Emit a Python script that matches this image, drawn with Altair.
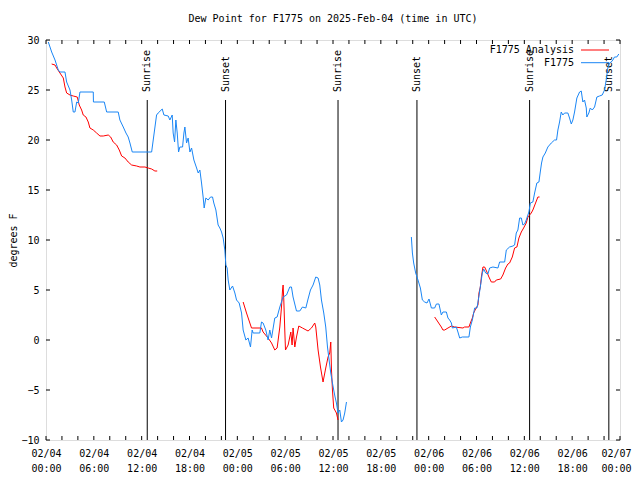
import json
import altair as alt
import pandas as pd

# ---- data: hours since 2025-02-04 00:00 UTC, dew point in degrees F ----
obs1_t = [0.29, 0.71, 1.13, 1.54, 1.75, 2.38, 2.59, 3.01, 3.22, 3.42, 3.63, 3.85, 4.05, 4.26, 5.93, 5.95,
          7.31, 7.61, 9.06, 9.27, 9.69, 10.03, 10.31, 10.53, 10.82, 13.25, 13.45, 13.87, 14.07, 14.58, 14.79,
          15.33, 15.54, 15.83, 15.95, 16.13, 16.29, 16.46, 16.63, 16.79, 17.13, 17.30, 17.42, 17.63, 17.83,
          18.05, 18.26, 18.55, 18.89, 19.09, 19.30, 19.51, 19.71, 19.84, 20.05, 20.34, 20.64, 20.89, 21.05,
          21.31, 21.59, 21.81, 22.02, 22.22, 22.43, 22.56, 22.72, 22.85, 23.06, 23.40, 23.69, 23.90, 24.23,
          24.53, 24.73, 25.07, 25.35, 25.65, 25.86, 25.98, 26.82, 27.03, 27.23, 27.57, 27.86, 28.07, 28.29,
          28.70, 28.99, 29.33, 29.74, 30.17, 30.58, 30.79, 30.99, 31.42, 31.83, 32.17, 32.59, 32.87, 33.17,
          33.50, 33.84, 34.13, 34.34, 34.55, 34.84, 35.09, 35.31, 35.51, 35.72, 35.93, 36.09, 36.26, 36.43,
          36.63, 36.85, 37.06, 37.26, 37.47, 37.69]
obs1_v = [29.8, 28.8, 28.0, 27.0, 26.8, 26.8, 25.8, 25.0, 24.0, 22.8, 22.8, 23.8, 23.7, 24.8, 24.8, 23.8,
          23.8, 22.8, 22.8, 22.0, 21.3, 20.7, 20.3, 19.7, 18.8, 18.8, 20.0, 22.5, 22.7, 23.1, 22.5,
          22.4, 22.0, 22.5, 20.7, 19.8, 22.0, 20.7, 18.8, 19.3, 19.3, 20.7, 21.3, 19.7, 20.2,
          18.8, 19.2, 18.0, 17.2, 16.7, 17.0, 15.7, 14.3, 13.2, 14.2, 14.0, 14.3, 14.3, 13.7,
          13.0, 11.5, 11.2, 10.8, 10.2, 9.0, 7.5, 7.2, 6.0, 5.0, 5.4, 4.7, 4.0, 3.7,
          2.7, 1.0, 0.0, 0.2, -0.7, 1.0, 0.7, 0.7, 1.8, 1.7, 1.0, 0.0, 1.0, 0.2,
          2.2, 2.3, 3.3, 4.3, 4.5, 5.3, 5.3, 4.3, 2.9, 2.9, 3.3, 3.2, 4.1, 5.0,
          5.5, 6.3, 6.2, 5.5, 4.0, 2.7, 1.3, -0.7, -2.0, -3.3, -4.3, -5.0, -5.7, -6.3,
          -7.3, -7.0, -8.2, -8.0, -7.3, -6.2]

obs2_t = [45.83, 45.96, 46.12, 46.37, 46.66, 46.96, 47.21, 47.50, 47.79, 48.04, 48.34, 48.75, 48.97, 49.29,
          49.59, 49.79, 50.22, 50.42, 50.63, 50.85, 50.97, 51.47, 51.67, 51.89, 52.22, 53.05, 53.23, 53.48,
          53.77, 54.06, 54.23, 54.48, 54.73, 54.90, 55.15, 55.43, 55.65, 56.06, 56.69, 56.90, 57.53, 57.74,
          58.15, 58.57, 58.78, 58.99, 59.19, 59.41, 59.62, 59.82, 60.03, 60.24, 60.57, 60.75, 61.07, 61.29,
          61.57, 61.83, 62.00, 62.16, 62.33, 62.63, 62.95, 63.38, 63.79, 64.04, 64.21, 64.42, 64.63, 64.83,
          65.05, 65.46, 65.67, 65.89, 66.09, 66.30, 66.59, 66.93, 67.14, 67.34, 67.55, 67.77, 67.84, 68.09,
          68.27, 68.52, 68.81, 69.10, 69.43, 69.77, 70.06, 70.27, 70.47, 70.69, 70.90, 71.10, 71.31, 71.60,
          71.85]
obs2_v = [10.3, 8.7, 7.7, 6.7, 6.0, 5.2, 4.0, 3.8, 3.7, 4.1, 3.2, 3.2, 3.6, 3.6,
          2.5, 2.8, 2.8, 2.2, 2.0, 1.7, 1.2, 1.3, 0.8, 0.2, 0.3, 0.3, 1.3, 2.0,
          3.2, 3.2, 4.0, 5.3, 6.7, 7.1, 6.7, 6.6, 7.2, 7.3, 7.2, 7.8, 7.8, 9.0,
          9.3, 9.4, 9.5, 10.7, 11.0, 12.2, 12.2, 11.5, 11.6, 12.0, 12.8, 13.7, 13.8, 14.7,
          15.7, 15.8, 16.8, 17.7, 18.3, 18.7, 19.3, 19.7, 20.0, 20.0, 21.0, 21.8, 22.8, 22.5,
          22.7, 22.7, 22.2, 21.6, 22.0, 22.8, 24.2, 24.8, 24.9, 23.8, 24.0, 23.2, 22.3, 22.7,
          23.2, 23.0, 23.3, 24.3, 24.4, 24.5, 25.0, 26.0, 27.2, 27.7, 27.8, 28.0, 28.3, 28.3,
          28.6]

ana1_t = [0.71, 1.13, 1.34, 1.75, 2.17, 2.38, 2.59, 3.01, 3.42, 3.92, 4.17, 4.47, 4.67, 5.01, 5.30, 5.51,
          5.93, 6.35, 6.77, 7.18, 7.81, 8.11, 8.43, 8.86, 9.19, 9.49, 9.90, 10.31, 10.74, 11.37, 11.78,
          12.41, 12.82, 13.25, 13.66, 13.95]
ana1_v = [27.6, 27.5, 27.2, 26.7, 26.2, 25.3, 24.7, 24.5, 24.4, 24.3, 23.5, 23.0, 22.5, 22.3, 21.8, 21.2,
          21.0, 20.7, 20.4, 20.4, 20.5, 20.3, 19.8, 19.5, 19.0, 18.4, 18.2, 17.8, 17.5, 17.4, 17.3,
          17.3, 17.2, 17.1, 16.9, 16.9]

ana2_t = [24.73, 25.15, 25.57, 25.78, 27.03, 27.23, 27.86, 28.29, 28.70, 28.99, 29.33, 29.54, 29.67, 29.74,
          29.83, 29.95, 30.04, 30.37, 30.58, 30.71, 30.87, 30.99, 31.21, 31.42, 31.71, 32.17, 32.87, 33.30,
          33.71, 33.84, 34.13, 34.43, 34.75, 35.09, 35.38, 35.59, 35.72, 35.81, 35.93, 36.09, 36.43, 36.63]
ana2_v = [3.8, 2.7, 1.7, 1.2, 1.2, 0.8, 0.2, -0.3, -1.0, -0.8, 1.3, 3.3, 5.0, 5.5,
          4.0, 1.0, -1.0, -0.5, 0.3, 0.8, -0.5, 1.2, -0.7, 0.3, 1.4, 1.2, 0.9, 1.2,
          1.7, 1.3, -1.0, -2.7, -4.2, -2.8, -1.7, -1.3, -0.2, -3.0, -5.0, -6.8, -7.3, -8.0]

ana3_t = [48.75, 49.17, 49.59, 49.79, 50.01, 50.42, 50.85, 51.26, 52.30, 52.51, 53.05, 53.23, 53.48, 53.64,
          53.89, 54.18, 54.31, 54.48, 54.61, 54.81, 55.02, 55.31, 55.56, 55.86, 56.27, 56.48, 57.03, 57.31,
          57.65, 57.94, 58.15, 58.49, 58.78, 59.07, 59.32, 59.62, 59.91, 60.24, 60.45, 60.87, 61.07, 61.41,
          61.70, 61.91]
ana3_v = [2.3, 1.8, 1.3, 1.0, 1.0, 1.2, 1.4, 1.3, 1.2, 1.3, 1.3, 1.7, 2.2, 2.7,
          3.1, 3.5, 4.7, 5.3, 6.3, 7.3, 7.3, 6.8, 6.3, 5.8, 5.8, 6.0, 6.1, 6.5,
          7.2, 7.6, 7.7, 8.3, 9.2, 9.3, 10.2, 10.8, 11.2, 11.7, 12.3, 12.7, 13.0, 13.7,
          14.3, 14.3]

sun_t = [12.70, 22.52, 36.63, 46.53, 60.66, 70.60]
sun_label = ["Sunrise", "Sunset", "Sunrise", "Sunset", "Sunrise", "Sunset"]

series_names = ["F1775 Analysis", "F1775"]
series_colors = ["#ff0000", "#1a86f5"]

tick_dates = ["02/04", "02/04", "02/04", "02/04", "02/05", "02/05", "02/05", "02/05",
              "02/06", "02/06", "02/06", "02/06", "02/07"]
tick_times = ["00:00", "06:00", "12:00", "18:00", "00:00", "06:00", "12:00", "18:00",
              "00:00", "06:00", "12:00", "18:00", "00:00"]
x_major = [0, 6, 12, 18, 24, 30, 36, 42, 48, 54, 60, 66, 72]
x_minor = list(range(0, 73, 2))
y_major = [-10, -5, 0, 5, 10, 15, 20, 25, 30]

FONT = "DejaVu Sans Mono"
W, H = 574, 400

rows = []
segments = [
    ("F1775 Analysis", ana1_t, ana1_v),
    ("F1775 Analysis", ana2_t, ana2_v),
    ("F1775 Analysis", ana3_t, ana3_v),
    ("F1775", obs1_t, obs1_v),
    ("F1775", obs2_t, obs2_v),
]
for s, (name, ts, vs) in enumerate(segments):
    for i, (t, v) in enumerate(zip(ts, vs)):
        rows.append({"t": t, "v": v, "series": name, "seg": s, "i": i})
df = pd.DataFrame(rows)

xs = alt.Scale(domain=[0, 72], nice=False, zero=False)
ys = alt.Scale(domain=[-10, 30], nice=False, zero=False)

label_expr = "[{d}[datum.value/6], {t}[datum.value/6]]".format(
    d=json.dumps(tick_dates), t=json.dumps(tick_times))

x_axis = alt.Axis(values=x_major, labelExpr=label_expr, title=None, tickSize=0, domain=False,
                  grid=False, labelFont=FONT, labelFontSize=10, labelPadding=8, labelLineHeight=15,
                  labelColor="black", labelBaseline="top", labelFlush=False, labelOverlap=False,
                  labelAlign={"condition": {"test": "datum.value == 72", "value": "right"},
                              "value": "center"},
                  labelOffset={"condition": {"test": "datum.value == 72", "value": 11},
                               "value": 0})
y_axis = alt.Axis(values=y_major, title="degrees F", tickSize=0, domain=False, grid=False,
                  labelFont=FONT, labelFontSize=10, labelPadding=7, labelColor="black",
                  titleFont=FONT, titleFontSize=10, titleFontWeight="normal", titleColor="black",
                  titleAngle=270, titleX=-30, titleY=200, titleAlign="center",
                  titleBaseline="alphabetic")

lines = alt.Chart(df).mark_line(strokeWidth=1, clip=True).encode(
    x=alt.X("t:Q", scale=xs, axis=x_axis),
    y=alt.Y("v:Q", scale=ys, axis=y_axis),
    color=alt.Color("series:N", scale=alt.Scale(domain=series_names, range=series_colors), legend=None),
    detail="seg:N",
    order="i:Q",
)

sun_df = pd.DataFrame({"t": sun_t, "label": sun_label})
sun_rules = alt.Chart(sun_df).mark_rule(color="black", strokeWidth=1).encode(
    x=alt.X("t:Q", scale=xs), y=alt.datum(24.0), y2=alt.datum(-10))
sun_text = alt.Chart(sun_df).mark_text(angle=270, align="left", baseline="middle", font=FONT,
                                       fontSize=10, color="black").encode(
    x=alt.X("t:Q", scale=xs), y=alt.datum(24.8), text="label:N")

# inward ticks on all four borders
xt_df = pd.DataFrame({"t": x_minor})
yt_df = pd.DataFrame({"v": y_major})
tick_bottom = alt.Chart(xt_df).mark_rule(color="black", strokeWidth=1).encode(
    x=alt.X("t:Q", scale=xs), y=alt.value(H), y2=alt.value(H - 4))
tick_top = alt.Chart(xt_df).mark_rule(color="black", strokeWidth=1).encode(
    x=alt.X("t:Q", scale=xs), y=alt.value(0), y2=alt.value(4))
tick_left = alt.Chart(yt_df).mark_rule(color="black", strokeWidth=1).encode(
    y=alt.Y("v:Q", scale=ys), x=alt.value(0), x2=alt.value(4))
tick_right = alt.Chart(yt_df).mark_rule(color="black", strokeWidth=1).encode(
    y=alt.Y("v:Q", scale=ys), x=alt.value(W), x2=alt.value(W - 4))

# gnuplot-style key, top right inside the plot
key_layers = []
for k, (name, col) in enumerate(zip(series_names, series_colors)):
    ky = 10 + k * 12.7
    kdf = pd.DataFrame({"name": [name]})
    key_layers.append(alt.Chart(kdf).mark_text(align="right", baseline="middle", font=FONT,
                                               fontSize=10, color="black").encode(
        x=alt.value(528), y=alt.value(ky), text="name:N"))
    key_layers.append(alt.Chart(kdf).mark_rule(color=col, strokeWidth=1).encode(
        x=alt.value(535), x2=alt.value(563), y=alt.value(ky)))

chart = alt.layer(
    sun_rules, sun_text, lines, tick_bottom, tick_top, tick_left, tick_right, *key_layers
).properties(
    width=W, height=H,
    title=alt.TitleParams("Dew Point for F1775 on 2025-Feb-04 (time in UTC)", font=FONT, fontSize=10,
                          fontWeight="normal", color="black", anchor="middle", offset=11),
    autosize=alt.AutoSizeParams(type="none"),
    padding={"left": 38, "top": 32, "right": 12, "bottom": 40},
).configure_view(stroke="black", strokeWidth=1).configure(background="white")

chart.save("out.html", embed_options={"renderer": "svg", "actions": False})
